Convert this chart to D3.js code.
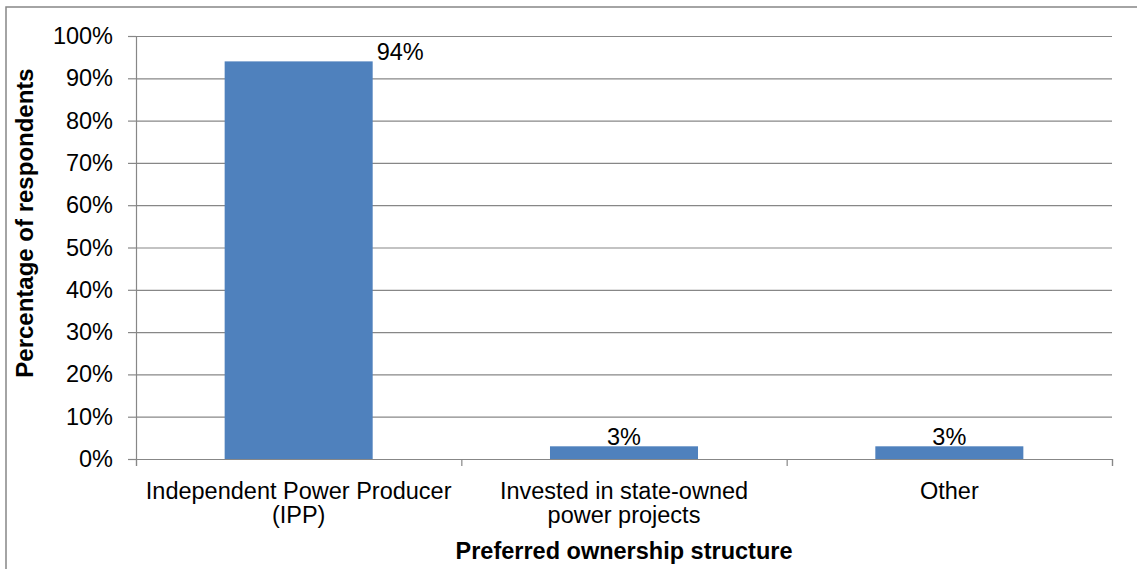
<!DOCTYPE html>
<html>
<head>
<meta charset="utf-8">
<script src="https://cdn.jsdelivr.net/npm/d3@7"></script>
<style>
  html, body { margin: 0; padding: 0; background: #fff; }
  svg { display: block; font-family: "Liberation Sans", Arial, sans-serif; }
</style>
</head>
<body>
<svg id="chart" width="1137" height="569"></svg>
<script>
// Survey results: preferred ownership structure
const categories = [
  "Independent Power Producer\n(IPP)",
  "Invested in state-owned\npower projects",
  "Other"
];
const shares = [94, 3, 3];
const yTicks = [0, 10, 20, 30, 40, 50, 60, 70, 80, 90, 100];
const xTitle = "Preferred ownership structure";
const yTitle = "Percentage of respondents";

const W = 1137, H = 569;
const plot = { left: 136, right: 1112, top: 36, bottom: 459 };
const fontSize = 23.5;
const grey = "#878787";
const barColor = "#4F81BD";

const svg = d3.select("#chart");

// outer chart frame
svg.append("rect")
  .attr("x", 6).attr("y", 7)
  .attr("width", W).attr("height", H)
  .attr("fill", "#fff")
  .attr("stroke", grey).attr("stroke-width", 1.5);

const y = d3.scaleLinear().domain([0, 100]).range([plot.bottom, plot.top]);
const x = d3.scaleBand()
  .domain(categories)
  .range([plot.left, plot.right])
  .paddingInner(0.545)
  .paddingOuter(0.2725);

// horizontal gridlines
svg.append("g")
  .attr("transform", `translate(${plot.left},0)`)
  .call(d3.axisLeft(y).tickValues(yTicks).tickSize(-(plot.right - plot.left)).tickFormat(""))
  .call(g => g.select(".domain").remove())
  .call(g => g.selectAll(".tick line").attr("stroke", grey).attr("stroke-width", 1.2));

// bars
svg.append("g").selectAll("rect")
  .data(shares)
  .join("rect")
  .attr("x", (d, i) => x(categories[i]))
  .attr("y", d => y(d))
  .attr("width", x.bandwidth())
  .attr("height", d => y(0) - y(d))
  .attr("fill", barColor);

// y axis with percentage labels
svg.append("g")
  .attr("transform", `translate(${plot.left},0)`)
  .call(d3.axisLeft(y).tickValues(yTicks).tickSize(8).tickPadding(15).tickFormat(d => d + "%"))
  .call(g => g.select(".domain").attr("stroke", grey).attr("stroke-width", 1.2))
  .call(g => g.selectAll(".tick line").attr("stroke", grey).attr("stroke-width", 1.2))
  .call(g => g.selectAll(".tick text")
    .attr("font-size", fontSize).attr("font-family", "Liberation Sans, Arial, sans-serif")
    .attr("fill", "#000"));

// x axis: tick marks sit on the category boundaries
const boundary = d3.scaleLinear().domain([0, categories.length]).range([plot.left, plot.right]);
svg.append("g")
  .attr("transform", `translate(0,${plot.bottom})`)
  .call(d3.axisBottom(boundary).tickValues(d3.range(categories.length + 1)).tickSize(7).tickFormat(""))
  .call(g => g.select(".domain").attr("stroke", grey).attr("stroke-width", 1.2))
  .call(g => g.selectAll(".tick line").attr("stroke", grey).attr("stroke-width", 1.2));

// category labels, possibly on two lines
const catLabels = svg.append("g").selectAll("text")
  .data(categories)
  .join("text")
  .attr("x", d => x(d) + x.bandwidth() / 2)
  .attr("y", 499)
  .attr("text-anchor", "middle")
  .attr("font-size", fontSize)
  .attr("fill", "#000");
catLabels.each(function (d) {
  const t = d3.select(this);
  d.split("\n").forEach((line, k) => {
    t.append("tspan")
      .attr("x", x(d) + x.bandwidth() / 2)
      .attr("dy", k === 0 ? 0 : 23.5)
      .text(line);
  });
});

// value labels
const tallest = d3.max(shares);
svg.append("g").selectAll("text")
  .data(shares)
  .join("text")
  .attr("x", (d, i) => d === tallest
    ? x(categories[i]) + x.bandwidth() + 4
    : x(categories[i]) + x.bandwidth() / 2)
  .attr("y", d => y(d) - 1)
  .attr("text-anchor", d => d === tallest ? "start" : "middle")
  .attr("font-size", fontSize)
  .attr("fill", "#000")
  .text(d => d + "%");

// axis titles
svg.append("text")
  .attr("x", (plot.left + plot.right) / 2)
  .attr("y", 559)
  .attr("text-anchor", "middle")
  .attr("font-size", fontSize)
  .attr("font-weight", "bold")
  .attr("fill", "#000")
  .text(xTitle);

svg.append("text")
  .attr("transform", "translate(33,223) rotate(-90)")
  .attr("text-anchor", "middle")
  .attr("font-size", 24)
  .attr("font-weight", "bold")
  .attr("fill", "#000")
  .text(yTitle);
</script>
</body>
</html>
